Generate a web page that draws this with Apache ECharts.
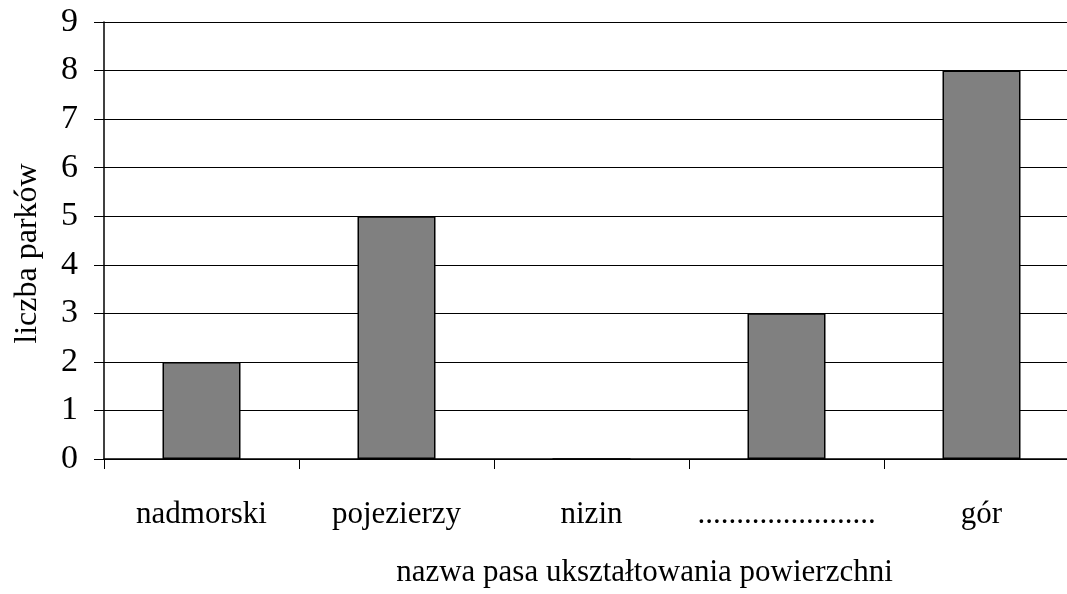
<!DOCTYPE html>
<html>
<head>
<meta charset="utf-8">
<title>liczba parków</title>
<script src="https://cdn.jsdelivr.net/npm/echarts@6/dist/echarts.min.js"></script>
<style>
  html, body { margin: 0; padding: 0; background: #fff; overflow: hidden; }
  #chart { width: 1067px; height: 594px; }
</style>
</head>
<body>
<div id="chart"></div>
<script>
var kategorie = ['nadmorski', 'pojezierzy', 'nizin', '.......................', 'gór'];
var liczbaParkow = [2, 5, 0, 3, 8];
var yMin = 0, yMax = 9, yKrok = 1;

var fontSerif = '"Liberation Serif", "DejaVu Serif", serif';

var chartElem = document.getElementById('chart');
var chart = echarts.init(chartElem);
chart.setOption({
  animation: false,
  backgroundColor: '#fff',
  // the plot runs a bit past the right edge of the picture
  grid: {
    left: 104,
    width: 975,
    top: 22,
    bottom: 135,
    outerBoundsMode: 'none'
  },
  xAxis: {
    type: 'category',
    data: kategorie,
    name: 'nazwa pasa ukształtowania powierzchni',
    nameLocation: 'middle',
    nameGap: 98,
    nameTextStyle: {
      fontFamily: fontSerif,
      fontSize: 31,
      color: '#000',
      padding: [0, 0, 0, 106]
    },
    axisLine: { lineStyle: { color: '#000', width: 1.5 } },
    axisTick: { show: true, alignWithLabel: false, length: 10, lineStyle: { color: '#000' } },
    axisLabel: {
      fontFamily: fontSerif,
      fontSize: 31,
      color: '#000',
      margin: 40,
      interval: 0
    }
  },
  yAxis: {
    type: 'value',
    min: yMin,
    max: yMax,
    interval: yKrok,
    name: 'liczba parków',
    nameLocation: 'middle',
    nameGap: 60,
    nameTextStyle: {
      fontFamily: fontSerif,
      fontSize: 32,
      color: '#000',
      padding: [0, 26, 0, 0]
    },
    axisLine: { show: true, lineStyle: { color: '#000', width: 1.5 } },
    axisTick: { show: true, length: 10, lineStyle: { color: '#000' } },
    axisLabel: {
      fontFamily: fontSerif,
      fontSize: 34,
      color: '#000',
      margin: 26
    },
    splitLine: { show: true, lineStyle: { color: '#000', width: 1 } }
  },
  series: [{
    name: 'liczba parków',
    type: 'bar',
    data: liczbaParkow,
    barWidth: '40%',
    itemStyle: {
      color: '#808080',
      borderColor: '#000',
      borderWidth: 1.5
    }
  }]
});
</script>
</body>
</html>
